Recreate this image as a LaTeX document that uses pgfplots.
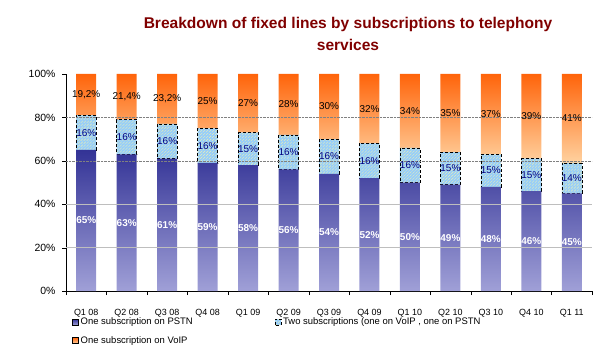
\documentclass[border=0pt]{standalone}
\usepackage{pgfplots}
\pgfplotsset{compat=1.18}
\usepackage{pgfplotstable}
\usetikzlibrary{patterns}
\usepackage{fontspec}
\setmainfont{Liberation Sans}
\definecolor{titlered}{RGB}{128,0,0}
\definecolor{pstnTop}{RGB}{51,51,150}
\definecolor{pstnBot}{RGB}{160,160,215}
\definecolor{midFill}{RGB}{150,205,250}
\definecolor{midLine}{RGB}{235,240,180}
\definecolor{voipTop}{RGB}{255,100,10}
\definecolor{voipBot}{RGB}{255,210,160}
\definecolor{midText}{RGB}{0,0,128}
\definecolor{gridgray}{RGB}{190,190,190}

\pgfplotstableread{
x pstn two voip voipbar
0 65 16 19.2 19
1 63 16 21.4 21
2 61 16 23.2 23
3 59 16 25 25
4 58 15 27 27
5 56 16 28 28
6 54 16 30 30
7 52 16 32 32
8 50 16 34 34
9 49 15 35 36
10 48 15 37 37
11 46 15 39 39
12 45 14 41 41
}\data

\begin{document}
\begin{tikzpicture}[x=1bp,y=1bp]
\useasboundingbox (0,0) rectangle (597,353);
\node[font=\bfseries\fontsize{15.6}{22}\selectfont, text=titlered, align=center] at (348,319)
  {Breakdown of fixed lines by subscriptions to telephony\\services};
\begin{axis}[
  at={(66bp,62bp)}, anchor=south west,
  scale only axis, width=526bp, height=217bp,
  ybar stacked, bar width=20bp,
  xmin=-0.5, xmax=12.5, ymin=0, ymax=100,
  axis x line*=bottom, axis y line*=left,
  axis line style={black},
  xtick={-0.5,0.5,1.5,2.5,3.5,4.5,5.5,6.5,7.5,8.5,9.5,10.5,11.5,12.5},
  xticklabels={Q1 08,Q2 08,Q3 08,Q4 08,Q1 09,Q2 09,Q3 09,Q4 09,Q1 10,Q2 10,Q3 10,Q4 10,Q1 11,{}},
  x tick label style={font=\fontsize{9}{10}\selectfont, xshift=20.23bp, yshift=-11bp},
  ytick={0,20,40,60,80,100},
  yticklabel={\pgfmathprintnumber{\tick}\%},
  y tick label style={font=\fontsize{10.5}{12}\selectfont, xshift=-3bp},
  tick style={black}, tick align=outside, major tick length=4bp,
  /pgf/number format/use comma,
  /pgf/number format/assume math mode=true,
  legend columns=2,
  legend cell align=left,
  legend style={at={(0.006,-0.105)}, anchor=north west, draw=none, fill=none,
    font=\fontsize{9.5}{11}\selectfont, row sep=6bp,
    /tikz/every even column/.append style={column sep=80bp}},
  legend image code/.code={\draw[#1] (0bp,-3bp) rectangle (6bp,3bp);},
]
\draw[gridgray] (axis cs:-0.5,20) -- (axis cs:12.5,20);
\draw[gridgray] (axis cs:-0.5,40) -- (axis cs:12.5,40);
\draw[gray, densely dotted] (axis cs:-0.5,60) -- (axis cs:12.5,60);
\draw[gray, densely dotted] (axis cs:-0.5,80) -- (axis cs:12.5,80);

\addplot[draw=none, top color=pstnTop, bottom color=pstnBot,
  nodes near coords={\pgfmathprintnumber{\pgfplotspointmeta}\%},
  every node near coord/.append style={anchor=center, text=white, font=\bfseries\fontsize{10}{10}\selectfont}]
  table[x=x, y=pstn] {\data};
\addlegendentry{One subscription on PSTN}

\addplot[draw=black, densely dashed, fill=midFill,
  postaction={pattern=north east lines, pattern color=midLine},
  nodes near coords={\pgfmathprintnumber{\pgfplotspointmeta}\%},
  every node near coord/.append style={anchor=center, text=midText, font=\fontsize{10}{10}\selectfont, solid}]
  table[x=x, y=two] {\data};
\addlegendentry{Two subscriptions (one on VoIP , one on PSTN}

\addplot[draw=none, top color=voipTop, bottom color=voipBot,
  point meta=explicit,
  nodes near coords={\pgfmathprintnumber{\pgfplotspointmeta}\%},
  every node near coord/.append style={anchor=center, text=black, font=\fontsize{10}{10}\selectfont}]
  table[x=x, y=voipbar, meta=voip] {\data};
\addlegendentry{One subscription on VoIP}
\end{axis}
\end{tikzpicture}
\end{document}
